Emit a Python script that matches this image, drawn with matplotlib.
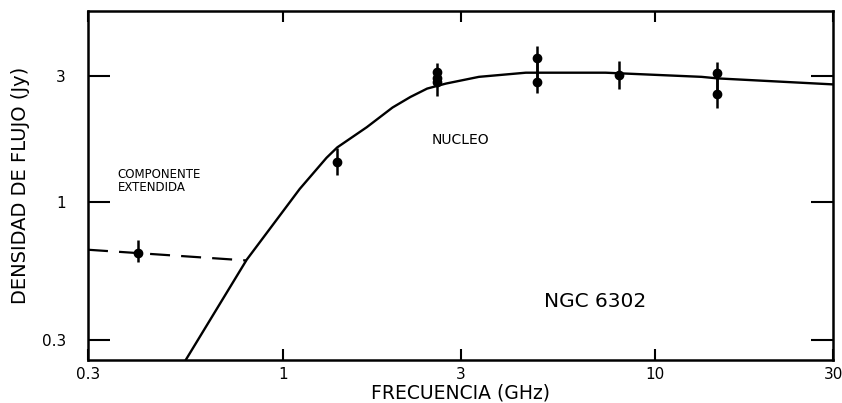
import matplotlib
matplotlib.use("Agg")
import matplotlib.pyplot as plt
from matplotlib.ticker import NullLocator

# Flux measurements of the compact nucleus (GHz, Jy)
nuc_freq = [1.4, 2.6, 2.6, 2.6, 4.8, 4.8, 8.0, 14.6, 14.6]
nuc_flux = [1.42, 2.84, 2.96, 3.10, 3.50, 2.84, 3.04, 3.07, 2.56]
nuc_err_lo = [0.16, 0.31, 0.10, 0.14, 0.66, 0.26, 0.35, 0.51, 0.28]
nuc_err_hi = [0.18, 0.10, 0.10, 0.27, 0.41, 0.66, 0.39, 0.31, 0.51]

# Extended component measurement
ext_freq = [0.408]
ext_flux = [0.64]
ext_err_lo = [0.05]
ext_err_hi = [0.08]

# Fitted spectrum of the nucleus
fit_freq = [0.55, 0.80, 1.11, 1.31, 1.40, 1.68, 1.97, 2.20, 2.44, 2.74,
            3.36, 4.49, 6.2, 7.35, 13.3, 14.7, 30.0]
fit_flux = [0.253, 0.604, 1.12, 1.47, 1.61, 1.92, 2.28, 2.50, 2.69, 2.81,
            2.98, 3.09, 3.09, 3.09, 2.98, 2.94, 2.79]

# Extended-component spectrum (dashed)
ext_line_freq = [0.30, 0.408, 0.80]
ext_line_flux = [0.659, 0.64, 0.600]

x_ticks = [0.3, 1, 3, 10, 30]
x_labels = ["0.3", "1", "3", "10", "30"]
y_ticks = [0.3, 1, 3]
y_labels = ["0.3", "1", "3"]

plt.rcParams["font.family"] = ["DejaVu Sans"]

fig = plt.figure(figsize=(8.42, 4.03), dpi=100)
ax = fig.add_axes([0.1045, 0.107, 0.885, 0.866])
ax.set_xscale("log")
ax.set_yscale("log")
ax.set_xlim(0.3, 30)
ax.set_ylim(0.252, 5.3)

ax.plot(fit_freq, fit_flux, color="black", lw=1.7)
ax.plot(ext_line_freq, ext_line_flux, color="black", lw=1.6,
        dashes=(9, 5))

ax.errorbar(nuc_freq, nuc_flux, yerr=[nuc_err_lo, nuc_err_hi], fmt="o",
            color="black", ms=6, elinewidth=1.8, capsize=0)
ax.errorbar(ext_freq, ext_flux, yerr=[ext_err_lo, ext_err_hi], fmt="o",
            color="black", ms=6, elinewidth=1.8, capsize=0)

for side in ax.spines.values():
    side.set_linewidth(1.8)

ax.set_xticks(x_ticks)
ax.set_xticklabels(x_labels)
ax.set_yticks(y_ticks)
ax.set_yticklabels(y_labels)
ax.xaxis.set_minor_locator(NullLocator())
ax.yaxis.set_minor_locator(NullLocator())
ax.tick_params(axis="x", which="major", direction="in", length=8, width=1.5,
               top=True, labelsize=11, pad=5)
ax.tick_params(axis="y", which="major", direction="in", length=16, width=1.5,
               right=True, labelsize=11, pad=16)

ax.set_xlabel("FRECUENCIA (GHz)", fontsize=13.5, labelpad=1)
ax.set_ylabel("DENSIDAD DE FLUJO (Jy)", fontsize=14, labelpad=8)

ax.text(0.36, 1.2, "COMPONENTE\nEXTENDIDA", fontsize=8.5,
        linespacing=0.95, va="center", ha="left")
ax.text(2.99, 1.71, "NUCLEO", fontsize=10, va="center", ha="center")
ax.text(6.9, 0.42, "NGC 6302", fontsize=14.5, va="center", ha="center")

fig.savefig("out.png", dpi=100)
